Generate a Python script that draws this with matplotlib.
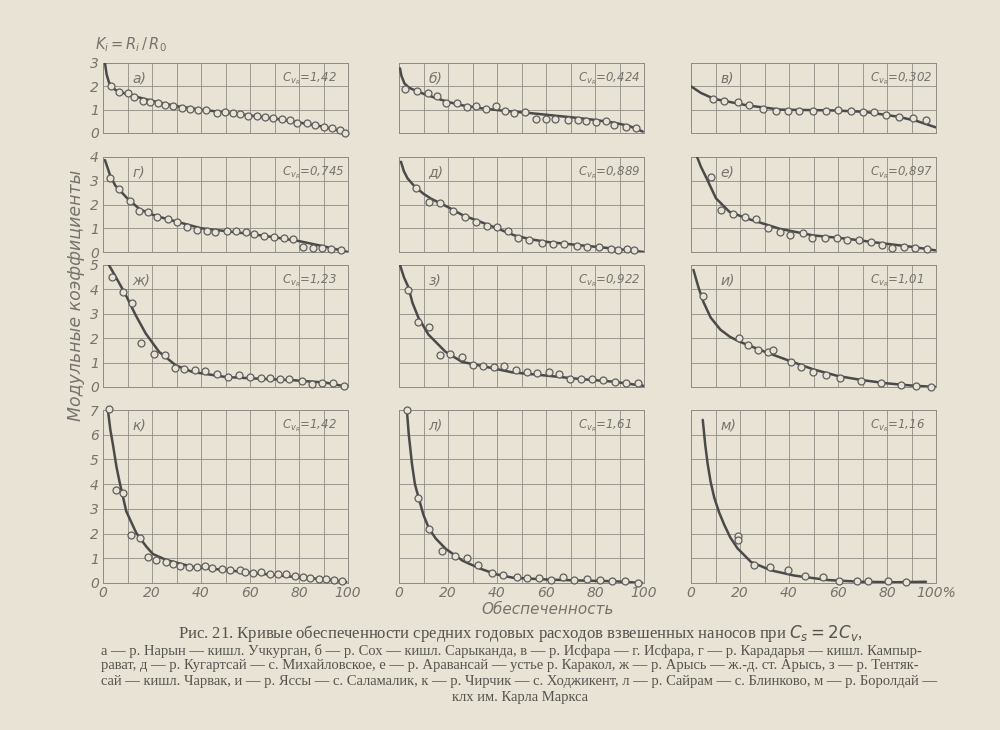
import matplotlib.pyplot as plt

# --- panel а
a_cx = [0.8, 1.5, 2.5, 5, 10, 20, 30, 40, 50, 60, 70, 80, 90, 100]
a_cy = [3.0, 2.5, 2.15, 1.85, 1.65, 1.38, 1.15, 1.0, 0.88, 0.75, 0.62, 0.45, 0.27, 0.0]
a_px = [3.1, 6.7, 10.3, 12.7, 16.5, 19.2, 22.6, 25.3, 28.7, 32.1, 35.5, 38.9, 42.0, 46.4, 49.8,
        53.2, 55.9, 59.3, 62.7, 66.1, 69.5, 72.9, 76.3, 79.3, 83.1, 86.5, 90.0, 93.3, 96.7, 98.8]
a_py = [2.0, 1.75, 1.71, 1.54, 1.39, 1.35, 1.28, 1.22, 1.17, 1.07, 1.03, 0.99, 0.99, 0.86, 0.88,
        0.84, 0.81, 0.74, 0.74, 0.70, 0.64, 0.60, 0.55, 0.41, 0.45, 0.33, 0.26, 0.20, 0.12, 0.01]

# --- panel б
b_cx = [0.4, 1, 2.2, 4, 6.2, 10, 15, 19.7, 25, 33.5, 43, 53.9, 64, 74.3, 80, 87.9, 94, 99.5]
b_cy = [2.77, 2.45, 2.13, 1.95, 1.84, 1.68, 1.5, 1.34, 1.2, 1.06, 0.95, 0.85, 0.74, 0.63, 0.56, 0.44, 0.3, 0.06]
b_px = [2.4, 7.3, 11.7, 15.5, 19.2, 23.7, 27.8, 31.4, 35.5, 39.6, 43.3, 47.1, 51.4, 55.9, 60.0,
        63.7, 68.8, 72.9, 76.3, 80.4, 84.5, 87.9, 92.7, 96.7]
b_py = [1.87, 1.8, 1.70, 1.58, 1.30, 1.27, 1.13, 1.16, 1.02, 1.16, 0.96, 0.87, 0.91, 0.6, 0.59,
        0.59, 0.56, 0.56, 0.53, 0.49, 0.52, 0.34, 0.24, 0.2]

# --- panel в
v_cx = [0, 4, 9.5, 23.1, 36.7, 57.1, 70.7, 84.4, 92, 100]
v_cy = [2.0, 1.72, 1.46, 1.18, 1.0, 0.97, 0.91, 0.70, 0.52, 0.24]
v_px = [8.9, 13.6, 19.1, 23.8, 29.3, 34.7, 39.5, 44.2, 49.7, 55.1, 59.9, 65.3, 70.1, 74.8, 79.6, 85.0, 90.5, 95.9]
v_py = [1.46, 1.39, 1.32, 1.18, 1.02, 0.95, 0.94, 0.95, 0.95, 0.94, 0.98, 0.94, 0.91, 0.88, 0.77, 0.67, 0.63, 0.56]

# --- panel г
g_cx = [0.8, 3, 5, 10, 15, 20, 25, 30, 40, 50, 60, 70, 80, 90, 100]
g_cy = [3.87, 3.2, 2.8, 2.25, 1.8, 1.58, 1.42, 1.28, 1.0, 0.88, 0.76, 0.62, 0.46, 0.24, 0.0]
g_px = [2.8, 6.6, 10.9, 14.7, 18.3, 22.0, 26.4, 30.1, 34.3, 38.3, 42.4, 45.7, 50.7, 54.1, 58.2,
        61.8, 65.9, 69.6, 73.7, 77.7, 81.8, 85.8, 89.5, 93.2, 97.3]
g_py = [3.1, 2.64, 2.16, 1.73, 1.67, 1.49, 1.38, 1.28, 1.04, 0.93, 0.89, 0.86, 0.89, 0.9, 0.86,
        0.74, 0.67, 0.62, 0.58, 0.53, 0.22, 0.18, 0.18, 0.12, 0.08]

# --- panel д
d_cx = [0.8, 2, 3.5, 6.2, 10, 13, 19.8, 26, 33.5, 40, 47.1, 54, 60.8, 74.4, 88, 100]
d_cy = [3.8, 3.4, 3.1, 2.78, 2.45, 2.25, 1.9, 1.55, 1.26, 1.0, 0.7, 0.53, 0.42, 0.28, 0.14, 0.0]
d_px = [7.0, 12.2, 16.6, 22.0, 26.9, 31.3, 36.0, 40.1, 44.6, 48.7, 53.1, 58.2, 62.9, 67.3, 72.8,
        76.9, 81.6, 86.4, 89.5, 93.2, 95.9]
d_py = [2.68, 2.11, 2.07, 1.74, 1.49, 1.28, 1.1, 1.07, 0.9, 0.58, 0.51, 0.39, 0.32, 0.32, 0.25,
        0.21, 0.21, 0.14, 0.08, 0.11, 0.07]

# --- panel е
e_cx = [2.5, 4, 6.1, 10.2, 15.6, 22.5, 30, 36.1, 49.8, 63.5, 77.1, 90.8, 99.7]
e_cy = [4.0, 3.6, 3.16, 2.26, 1.7, 1.42, 1.18, 0.98, 0.70, 0.56, 0.38, 0.21, 0.07]
e_px = [8.2, 12.3, 17.3, 22.2, 26.6, 31.4, 36.4, 40.5, 45.7, 49.5, 54.6, 59.4, 63.5, 68.5, 73.3,
        77.8, 81.9, 86.9, 91.4, 96.2]
e_py = [3.16, 1.76, 1.62, 1.48, 1.41, 1.03, 0.85, 0.71, 0.78, 0.61, 0.59, 0.61, 0.52, 0.52, 0.42,
        0.31, 0.18, 0.21, 0.18, 0.14]

# --- panel ж
zh_cx = [2.4, 5, 9.3, 13.3, 17.4, 22.9, 29.7, 36.4, 50, 63.7, 77.3, 90.9, 100]
zh_cy = [5.0, 4.55, 3.77, 2.95, 2.2, 1.44, 0.89, 0.62, 0.41, 0.34, 0.28, 0.18, 0.0]
zh_px = [3.8, 8.1, 11.7, 15.7, 20.7, 25.2, 29.3, 33.0, 37.4, 41.8, 46.6, 51.1, 55.5, 59.9, 64.4,
         68.0, 72.1, 75.9, 81.1, 85.4, 89.5, 93.9, 98.4]
zh_py = [4.49, 3.91, 3.43, 1.79, 1.37, 1.33, 0.76, 0.73, 0.69, 0.65, 0.55, 0.41, 0.48, 0.41, 0.37,
         0.37, 0.34, 0.34, 0.23, 0.14, 0.16, 0.16, 0.04]

# --- panel з
z_cx = [0.4, 2, 3.8, 5.5, 7.9, 12, 18.9, 25.7, 32.5, 46.2, 59.9, 73.6, 87.3, 99.7]
z_cy = [5.0, 4.5, 4.1, 3.45, 2.85, 2.15, 1.45, 1.03, 0.89, 0.6, 0.47, 0.33, 0.22, 0.05]
z_px = [3.5, 7.6, 12.2, 16.7, 20.8, 25.6, 30.0, 34.1, 38.7, 42.8, 47.6, 52.4, 56.5, 61.3, 65.4,
        69.8, 74.3, 78.9, 83.2, 88.0, 92.8, 97.7]
z_py = [3.97, 2.68, 2.45, 1.31, 1.34, 1.24, 0.92, 0.85, 0.82, 0.85, 0.71, 0.61, 0.59, 0.61, 0.54,
        0.33, 0.33, 0.33, 0.3, 0.19, 0.17, 0.15]

# --- panel и
i_cx = [1, 3, 5, 8, 12, 16, 20, 30, 40, 50, 60, 70, 80, 90, 100]
i_cy = [4.8, 4.1, 3.5, 2.85, 2.35, 2.05, 1.85, 1.45, 1.08, 0.72, 0.45, 0.28, 0.15, 0.06, 0.0]
i_px = [4.9, 19.6, 23.3, 27.3, 31.4, 33.5, 40.8, 44.9, 49.8, 55.0, 61.0, 69.4, 77.6, 85.7, 91.8, 98.0]
i_py = [3.73, 2.0, 1.72, 1.52, 1.43, 1.5, 1.02, 0.82, 0.61, 0.49, 0.37, 0.25, 0.16, 0.08, 0.04, 0.0]

# --- panel к
k_cx = [2.0, 3, 4.1, 5.5, 6.8, 9.5, 13.6, 17.7, 20.4, 25.9, 36.7, 50.3, 63.9, 77.6, 91.2, 99.3]
k_cy = [7.0, 6.2, 5.57, 4.7, 4.07, 2.9, 2.02, 1.47, 1.17, 0.93, 0.65, 0.52, 0.38, 0.25, 0.14, 0.04]
k_px = [2.4, 5.2, 8.2, 11.3, 15.0, 18.4, 21.8, 25.6, 28.6, 31.6, 35.1, 38.4, 41.5, 44.6, 48.7,
        52.0, 55.8, 57.8, 61.2, 64.6, 68.3, 71.4, 74.8, 78.2, 81.6, 84.6, 88.2, 91.2, 94.1, 97.7]
k_py = [7.04, 3.77, 3.63, 1.95, 1.81, 1.06, 0.95, 0.86, 0.76, 0.7, 0.65, 0.63, 0.68, 0.59, 0.55,
        0.52, 0.52, 0.45, 0.41, 0.45, 0.38, 0.35, 0.35, 0.27, 0.25, 0.22, 0.18, 0.15, 0.11, 0.08]

# --- panel л
l_cx = [3.2, 4, 5.3, 6.5, 8, 10, 12.2, 15, 19.1, 26, 32.9, 39.8, 46.7, 60.6, 74.4, 88.2, 99.3]
l_cy = [7.0, 6.0, 4.81, 4.0, 3.45, 2.75, 2.21, 1.8, 1.38, 0.9, 0.59, 0.35, 0.21, 0.14, 0.1, 0.07, 0.0]
l_px = [3.2, 7.7, 12.4, 17.4, 23.0, 27.7, 32.2, 37.8, 42.6, 48.1, 52.3, 57.1, 62.0, 66.8, 71.6,
        76.9, 82.0, 86.9, 92.1, 97.6]
l_py = [7.0, 3.45, 2.17, 1.31, 1.1, 1.01, 0.72, 0.41, 0.32, 0.23, 0.21, 0.21, 0.14, 0.23, 0.14,
        0.17, 0.14, 0.07, 0.07, 0.0]

# --- panel м
m_cx = [4.8, 5.8, 6.8, 8, 9.5, 11.5, 13.6, 16, 19, 24.5, 32.7, 42.2, 55.8, 69.4, 83, 95.9]
m_cy = [6.6, 5.6, 4.82, 4.1, 3.45, 2.85, 2.35, 1.85, 1.4, 0.85, 0.51, 0.3, 0.12, 0.05, 0.03, 0.05]
m_px = [19.0, 19.0, 25.6, 32.4, 39.5, 46.7, 53.7, 60.3, 67.6, 72.1, 80.3, 87.8]
m_py = [1.92, 1.75, 0.74, 0.64, 0.51, 0.3, 0.23, 0.1, 0.1, 0.1, 0.1, 0.05]

letters = ["а)", "б)", "в)", "г)", "д)", "е)", "ж)", "з)", "и)", "к)", "л)", "м)"]
cv_values = ["1,42", "0,424", "0,302", "0,745", "0,889", "0,897",
             "1,23", "0,922", "1,01", "1,42", "1,61", "1,16"]
row_ymax = [3, 4, 5, 7]
x_labels = ["0", "20", "40", "60", "80", "100"]

curves = [(a_cx, a_cy, a_px, a_py), (b_cx, b_cy, b_px, b_py), (v_cx, v_cy, v_px, v_py),
          (g_cx, g_cy, g_px, g_py), (d_cx, d_cy, d_px, d_py), (e_cx, e_cy, e_px, e_py),
          (zh_cx, zh_cy, zh_px, zh_py), (z_cx, z_cy, z_px, z_py), (i_cx, i_cy, i_px, i_py),
          (k_cx, k_cy, k_px, k_py), (l_cx, l_cy, l_px, l_py), (m_cx, m_cy, m_px, m_py)]

paper = "#e8e3d4"
ink = "#75736c"
line_col = "#4a4a4a"
grid_col = "#8f8c85"

fig = plt.figure(figsize=(10, 7.3), dpi=100, facecolor=paper)

# panel boxes in pixels of the 1000x730 page
col_left = [103, 399, 691]
row_top = [63, 157, 265, 410]
row_bot = [133, 252, 387, 583]
width = 245

for n, (cx, cy, px, py) in enumerate(curves):
    r, c = divmod(n, 3)
    h = row_bot[r] - row_top[r]
    ax = fig.add_axes([col_left[c] / 1000, 1 - row_bot[r] / 730, width / 1000, h / 730])
    ax.set_facecolor(paper)
    ymax = row_ymax[r]
    ax.set_xlim(0, 100)
    ax.set_ylim(0, ymax)
    ax.set_xticks(range(0, 101, 20))
    ax.set_xticks(range(10, 100, 20), minor=True)
    ax.set_yticks(range(0, ymax + 1))
    ax.grid(True, which="both", color=grid_col, linewidth=0.6)
    ax.set_axisbelow(True)
    for s in ax.spines.values():
        s.set_color(grid_col)
        s.set_linewidth(0.7)
    ax.tick_params(which="both", length=0, labelsize=10, labelcolor=ink)
    ax.tick_params(axis="x", pad=2)
    ax.tick_params(axis="y", pad=3)
    for t in ax.get_xticklabels() + ax.get_yticklabels():
        t.set_fontstyle("italic")

    if c != 0:
        ax.set_yticklabels([])
    if r == 3:
        labs = list(x_labels)
        if c == 2:
            labs[-1] = "100%"
        ax.set_xticklabels(labs, fontstyle="italic")
    else:
        ax.set_xticklabels([])

    ax.plot(cx, cy, color=line_col, linewidth=1.8, solid_capstyle="round", zorder=3)
    ax.plot(px, py, linestyle="none", marker="o", markersize=5, markerfacecolor=paper,
            markeredgecolor="#5e5e5e", markeredgewidth=0.9, zorder=4, clip_on=False)

    ax.annotate(letters[n], xy=(0.12, 1), xycoords="axes fraction", xytext=(0, -6),
                textcoords="offset points", va="top", ha="left", fontsize=10,
                fontstyle="italic", color=ink)
    ax.annotate(r"$C_{v_R}$=" + cv_values[n], xy=(0.73, 1), xycoords="axes fraction",
                xytext=(0, -5), textcoords="offset points", va="top", ha="left",
                fontsize=8.5, fontstyle="italic", color=ink)

fig.text(0.095, 1 - 45 / 730, r"$K_i = R_i\,/\,R_0$", fontsize=10.5, color=ink, va="center")
fig.text(0.076, 1 - 295 / 730, "Модульные коэффициенты", rotation=90, fontsize=12.5,
         fontstyle="italic", color=ink, ha="center", va="center")
fig.text(0.548, 1 - 609 / 730, "Обеспеченность", fontsize=11, fontstyle="italic",
         color=ink, ha="center", va="center")

cap = "#55534e"
fig.text(0.52, 1 - 633 / 730,
         r"Рис. 21. Кривые обеспеченности средних годовых расходов взвешенных наносов при $C_s = 2C_v$,",
         family="Liberation Serif", fontsize=12, color=cap, ha="center", va="center")
caption_lines = [
    "а — р. Нарын — кишл. Учкурган, б — р. Сох — кишл. Сарыканда, в — р. Исфара — г. Исфара, г — р. Карадарья — кишл. Кампыр-",
    "рават, д — р. Кугартсай — с. Михайловское, е — р. Аравансай — устье р. Каракол, ж — р. Арысь — ж.-д. ст. Арысь, з — р. Тентяк-",
    "сай — кишл. Чарвак, и — р. Яссы — с. Саламалик, к — р. Чирчик — с. Ходжикент, л — р. Сайрам — с. Блинково, м — р. Боролдай —",
]
for j, line in enumerate(caption_lines):
    fig.text(0.101, 1 - (651 + 15 * j) / 730, line, family="Liberation Serif",
             fontsize=10.5, color=cap, ha="left", va="center")
fig.text(0.52, 1 - 697 / 730, "клх им. Карла Маркса", family="Liberation Serif",
         fontsize=10.5, color=cap, ha="center", va="center")

fig.savefig("out.png", dpi=100, facecolor=paper)
